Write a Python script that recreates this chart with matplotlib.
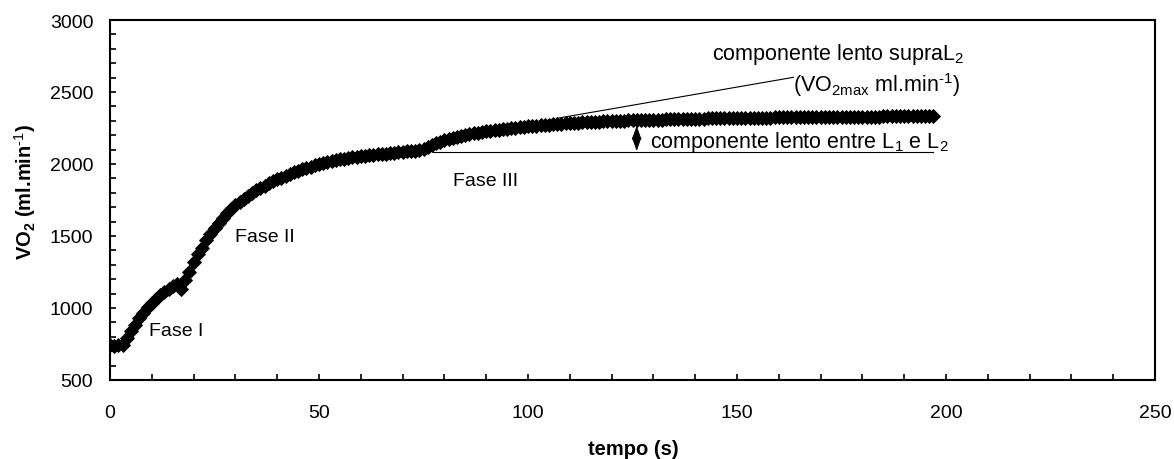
import matplotlib
matplotlib.use("Agg")
import matplotlib.pyplot as plt
from matplotlib.ticker import MultipleLocator

plt.rcParams['font.family'] = ['Liberation Sans', 'DejaVu Sans']
plt.rcParams['mathtext.fontset'] = 'custom'
plt.rcParams['mathtext.rm'] = 'Liberation Sans'
plt.rcParams['mathtext.it'] = 'Liberation Sans'
plt.rcParams['mathtext.bf'] = 'Liberation Sans:bold'

# VO2 (ml/min) sampled every second, t = 0..197 s
tempo = list(range(0, 198))
vo2 = [
    740, 738, 742, 740, 790, 840, 885, 930, 965, 1005,
    1035, 1065, 1090, 1110, 1130, 1150, 1168, 1135, 1195, 1250,
    1320, 1375, 1420, 1470, 1515, 1555, 1592, 1628, 1660, 1688,
    1712, 1735, 1758, 1780, 1800, 1818, 1835, 1850, 1865, 1880,
    1893, 1906, 1918, 1930, 1941, 1952, 1962, 1972, 1981, 1990,
    1998, 2006, 2013, 2020, 2026, 2032, 2037, 2042, 2046, 2050,
    2054, 2057, 2060, 2063, 2066, 2069, 2072, 2075, 2078, 2081,
    2084, 2087, 2090, 2093, 2097, 2104, 2118, 2132, 2145, 2156,
    2166, 2175, 2183, 2190, 2196, 2202, 2208, 2213, 2218, 2223,
    2227, 2231, 2235, 2239, 2243, 2246, 2249, 2252, 2255, 2258,
    2261, 2264, 2266, 2269, 2271, 2273, 2276, 2278, 2280, 2282,
    2284, 2286, 2288, 2289, 2291, 2292, 2294, 2295, 2296, 2298,
    2299, 2300, 2301, 2302, 2303, 2304, 2305, 2306, 2306, 2307,
    2308, 2309, 2309, 2310, 2311, 2311, 2312, 2313, 2313, 2314,
    2314, 2315, 2315, 2316, 2316, 2317, 2317, 2318, 2318, 2319,
    2319, 2320, 2320, 2320, 2321, 2321, 2322, 2322, 2322, 2323,
    2323, 2323, 2324, 2324, 2324, 2325, 2325, 2325, 2326, 2326,
    2326, 2326, 2327, 2327, 2327, 2327, 2328, 2328, 2328, 2328,
    2329, 2329, 2329, 2329, 2329, 2330, 2330, 2330, 2330, 2330,
    2331, 2331, 2331, 2331, 2331, 2332, 2332, 2332,
]

# annotation geometry (data units)
hline_x = [77.3, 196.9]
hline_y = [2086, 2086]
slope_x = [106.9, 163.5]
slope_y = [2317, 2602]
arrow_t = 126
arrow_y = [2266, 2090]

fig = plt.figure(figsize=(11.74, 4.60), dpi=100)
ax = fig.add_axes([110 / 1174, 79 / 460, 1045 / 1174, 360 / 460])

ax.plot(tempo, vo2, linestyle='none', marker='D', markersize=7,
        color='black', markeredgewidth=0.6, zorder=3)

ax.plot(hline_x, hline_y, color='black', linewidth=0.8, zorder=2)
ax.plot(slope_x, slope_y, color='black', linewidth=0.8, zorder=2)
ax.annotate('', xy=(arrow_t, arrow_y[1]), xytext=(arrow_t, arrow_y[0]),
            arrowprops=dict(arrowstyle='<|-|>,head_length=0.85,head_width=0.3',
                            color='black', lw=0.8, shrinkA=0, shrinkB=0,
                            mutation_scale=10))

fs = 14
fs2 = 15.5
ax.text(143.9, 2764, r'componente lento supraL$_2$', fontsize=fs2, va='center', ha='left')
ax.text(163.4, 2556, r'(VO$_{2max}$ ml.min$^{\text{-1}}$)', fontsize=fs2, va='center', ha='left')
ax.text(129.2, 2153, r'componente lento entre L$_1$ e L$_2$', fontsize=fs2, va='center', ha='left')
ax.text(82.1, 1884, 'Fase III', fontsize=fs, va='center', ha='left')
ax.text(29.9, 1498, 'Fase II', fontsize=fs, va='center', ha='left')
ax.text(9.4, 842, 'Fase I', fontsize=fs, va='center', ha='left')

ax.set_xlim(0, 250)
ax.set_ylim(500, 3000)
ax.xaxis.set_major_locator(MultipleLocator(50))
ax.xaxis.set_minor_locator(MultipleLocator(10))
ax.yaxis.set_major_locator(MultipleLocator(500))
ax.yaxis.set_minor_locator(MultipleLocator(100))

ax.tick_params(which='both', direction='in', width=1.2, labelsize=14)
ax.tick_params(which='major', length=4)
ax.tick_params(which='minor', length=4)
ax.tick_params(axis='x', which='major', pad=17)
ax.tick_params(axis='y', which='major', pad=12)
for sp in ax.spines.values():
    sp.set_linewidth(1.5)

fig.text(633 / 1174, 1 - 450 / 460, 'tempo (s)', fontsize=14.5, fontweight='bold',
         ha='center', va='center')
fig.text(25 / 1174, 1 - 192 / 460, r'VO$_\mathbf{2}$ (ml.min$^{\mathbf{\text{-1}}}$)', fontsize=14.5,
         fontweight='bold', ha='center', va='center', rotation=90)

fig.savefig('out.png', dpi=100, facecolor='white')
